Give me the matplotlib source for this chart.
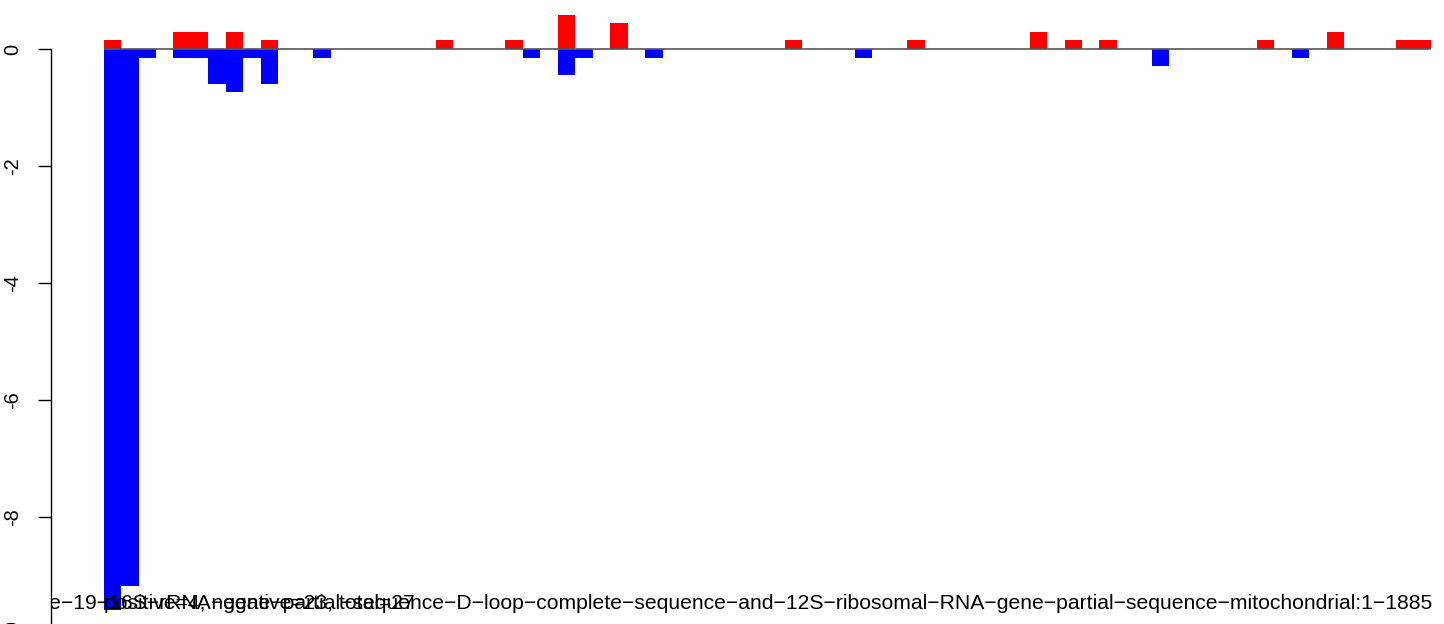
import numpy as np
import matplotlib.pyplot as plt

# значения столбцов (76 позиций, столбцы без зазоров)
pos_vals = [0.146, 0, 0, 0, 0.29, 0.29, 0, 0.29, 0, 0.146,
            0, 0, 0, 0, 0, 0, 0, 0, 0, 0.146,
            0, 0, 0, 0.146, 0, 0, 0.58, 0, 0, 0.44,
            0, 0, 0, 0, 0, 0, 0, 0, 0, 0.146,
            0, 0, 0, 0, 0, 0, 0.146, 0, 0, 0,
            0, 0, 0, 0.29, 0, 0.146, 0, 0.146, 0, 0,
            0, 0, 0, 0, 0, 0, 0.146, 0, 0, 0,
            0.29, 0, 0, 0, 0.146, 0.146]
neg_vals = [-9.58, -9.17, -0.146, 0, -0.146, -0.146, -0.59, -0.73, -0.146, -0.59,
            0, 0, -0.146, 0, 0, 0, 0, 0, 0, 0,
            0, 0, 0, 0, -0.146, 0, -0.44, -0.146, 0, 0,
            0, -0.146, 0, 0, 0, 0, 0, 0, 0, 0,
            0, 0, 0, -0.146, 0, 0, 0, 0, 0, 0,
            0, 0, 0, 0, 0, 0, 0, 0, 0, 0,
            -0.29, 0, 0, 0, 0, 0, 0, 0, -0.146, 0,
            0, 0, 0, 0, 0, 0]
y_ticks = [0, -2, -4, -6, -8, -10]

label_counts = "positive=4, negative=23, total=27"
label_seq = ("Homo\u2212sapiens\u2212isolate\u2212e\u221219\u221216S\u2212rRNA\u2212gene\u2212partial\u2212sequence"
             "\u2212D\u2212loop\u2212complete\u2212sequence\u2212and\u221212S\u2212ribosomal\u2212RNA\u2212gene"
             "\u2212partial\u2212sequence\u2212mitochondrial:1\u22121885")

plt.rcParams['font.family'] = ['Liberation Sans', 'DejaVu Sans']

n = len(pos_vals)
x = np.arange(n)

fig = plt.figure(figsize=(14.44, 6.24), dpi=100)
# область графика шире картинки (как в исходнике, обрезана справа и снизу)
ax = fig.add_axes([50.5 / 1444, -11 / 624, 1434 / 1444, 644 / 624])
ax.set_facecolor('none')

ax.bar(x, pos_vals, width=1, align='edge', color='#ff0000', linewidth=0)
ax.bar(x, neg_vals, width=1, align='edge', color='#0000ff', linewidth=0)
ax.hlines(0, 0, n, colors='#555555', linewidth=1.2, zorder=3)

ax.set_xlim(-0.04 * n, n * 1.04)
ax.set_ylim(-10.01, 0.99)

y_lab = min(neg_vals) + 0.01
t1 = ax.text(0, y_lab, label_counts, ha='left', va='baseline', fontsize=15.2, clip_on=True)
t2 = ax.text(n + 0.05, y_lab, label_seq, ha='right', va='baseline', fontsize=15.2, clip_on=True)
for t in (t1, t2):
    t.set_clip_box(ax.bbox)

for s in ['top', 'right', 'bottom']:
    ax.spines[s].set_visible(False)
ax.spines['left'].set_bounds(-10, 0)
ax.spines['left'].set_linewidth(1)
ax.set_xticks([])
ax.set_yticks(y_ticks)
ax.set_yticklabels([str(t) for t in y_ticks], rotation=90, va='center')
ax.tick_params(axis='y', length=9.4, width=1, pad=11, labelsize=14.4)

fig.savefig('out.png', dpi=100)
